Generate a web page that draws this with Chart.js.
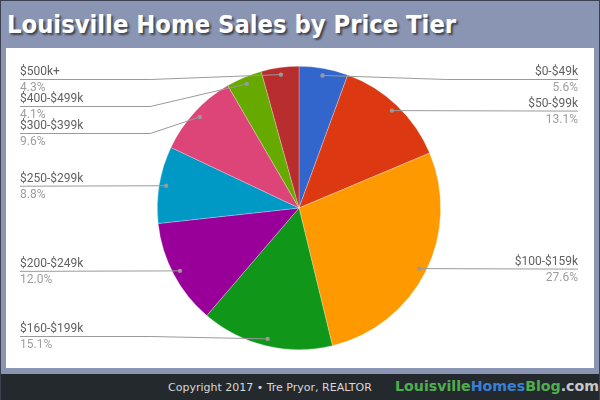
<!DOCTYPE html>
<html>
<head>
<meta charset="utf-8">
<script src="https://cdn.jsdelivr.net/npm/chart.js@4/dist/chart.umd.min.js"></script>
<style>
  html, body { margin:0; padding:0; }
  body { width:600px; height:400px; overflow:hidden; background:#8a95b3; }
  #frame { position:absolute; left:0; top:0; width:598px; height:398px; border:1px solid #3a4050; background:#8a95b3; }
  #title { position:absolute; left:6px; top:9px; margin:0; font-family:"DejaVu Sans"; font-stretch:condensed; font-weight:bold; font-size:25.3px; color:#fff; text-shadow:2px 2px 2px rgba(0,0,0,0.55); white-space:nowrap; }
  #panel { position:absolute; left:5px; top:47px; width:588px; height:320px; background:#fff; }
  #footer { position:absolute; left:0; top:373px; width:598px; height:26px; background:#24292d; }
  #copy { position:absolute; left:167px; top:7px; font-family:"DejaVu Sans"; font-size:11px; color:#d8d8d8; white-space:nowrap; }
  #logo { position:absolute; left:394px; top:4px; font-family:"DejaVu Sans"; font-weight:bold; font-size:14.2px; white-space:nowrap; }
</style>
</head>
<body>
<div id="frame">
  <h1 id="title">Louisville Home Sales by Price Tier</h1>
  <div id="panel"><canvas id="c" width="588" height="320"></canvas></div>
  <div id="footer">
    <span id="copy">Copyright 2017 • Tre Pryor, REALTOR</span>
    <span id="logo"><span style="color:#4fae4f">Louisville</span><span style="color:#3b7fd4">Homes</span><span style="color:#4fae4f">Blog</span><span style="color:#c8c8c8">.com</span></span>
  </div>
</div>
<script>
const categories = ['$0-$49k', '$50-$99k', '$100-$159k', '$160-$199k', '$200-$249k', '$250-$299k', '$300-$399k', '$400-$499k', '$500k+'];
const shares = [5.6, 13.1, 27.6, 15.1, 12.0, 8.8, 9.6, 4.1, 4.3];
const shareLabels = ['5.6%', '13.1%', '27.6%', '15.1%', '12.0%', '8.8%', '9.6%', '4.1%', '4.3%'];
const palette = ['#3366cc', '#dc3912', '#ff9900', '#109618', '#990099', '#0099c6', '#dd4477', '#66aa00', '#b82e2e'];

const leaderPlugin = {
  id: 'leaders',
  afterDatasetsDraw(chart) {
    const ctx = chart.ctx;
    const meta = chart.getDatasetMeta(0);
    const area = chart.chartArea;
    const items = meta.data.map((arc, i) => {
      const p = arc.getProps(['x', 'y', 'startAngle', 'endAngle', 'outerRadius'], true);
      const mid = (p.startAngle + p.endAngle) / 2;
      const r = p.outerRadius * 0.95;
      return { i, x: p.x + Math.cos(mid) * r, y: p.y + Math.sin(mid) * r,
               side: Math.cos(mid) >= 0 ? 'right' : 'left', cx: p.x, R: p.outerRadius };
    });
    const minY = area.top + 13, maxY = area.bottom - 14, gap = 27;
    ['left', 'right'].forEach(side => {
      const list = items.filter(it => it.side === side).sort((a, b) => a.y - b.y);
      let prev = -Infinity;
      list.forEach(it => { it.ly = Math.max(it.y, prev + gap, minY); prev = it.ly; });
      let next = Infinity;
      for (let k = list.length - 1; k >= 0; k--) {
        const it = list[k];
        it.ly = Math.min(it.ly, next - gap, maxY);
        next = it.ly;
      }
      list.forEach(it => {
        const elbowX = side === 'left' ? it.cx - it.R - 7 : it.cx + it.R + 6;
        const endX = side === 'left' ? 14 : chart.width - 16;
        ctx.save();
        ctx.strokeStyle = '#9a9a9a';
        ctx.lineWidth = 1;
        ctx.beginPath();
        ctx.moveTo(it.x, it.y);
        const outward = side === 'left' ? elbowX < it.x : elbowX > it.x;
        if (outward && Math.abs(it.ly - it.y) > 0.5) ctx.lineTo(elbowX, it.ly + 0.5);
        ctx.lineTo(endX, it.ly + 0.5);
        ctx.stroke();
        ctx.fillStyle = '#999';
        ctx.beginPath();
        ctx.arc(it.x, it.y, 2.2, 0, Math.PI * 2);
        ctx.fill();
        ctx.font = '12px Roboto';
        ctx.textAlign = side === 'left' ? 'left' : 'right';
        ctx.textBaseline = 'alphabetic';
        ctx.fillStyle = '#616161';
        ctx.fillText(categories[it.i], endX, it.ly - 4);
        ctx.fillStyle = '#9e9e9e';
        ctx.fillText(shareLabels[it.i], endX, it.ly + 12);
        ctx.restore();
      });
    });
  }
};

new Chart(document.getElementById('c'), {
  type: 'pie',
  data: {
    labels: categories,
    datasets: [{ data: shares, backgroundColor: palette, borderColor: 'rgba(255,255,255,0.45)', borderWidth: 0.6 }]
  },
  options: {
    responsive: false,
    animation: false,
    layout: { padding: { top: 18, bottom: 18, left: 149, right: 151 } },
    plugins: { legend: { display: false }, tooltip: { enabled: false } }
  },
  plugins: [leaderPlugin]
});
</script>
</body>
</html>
